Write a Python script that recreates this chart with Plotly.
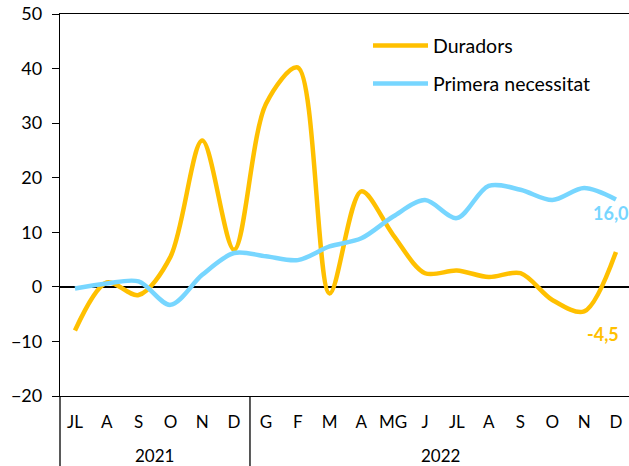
import plotly.graph_objects as go

# Month labels (Catalan abbreviations) and years
months = ["JL", "A", "S", "O", "N", "D",
          "G", "F", "M", "A", "MG", "J", "JL", "A", "S", "O", "N", "D"]
years = ["2021", "2022"]
year_counts = [6, 12]

# Year-on-year change (%)
duradors = [-8.0, 0.8, -1.5, 5.5, 26.8, 6.8,
            33.5, 40.2, -1.2, 17.5, 9.5, 2.5, 3.0, 1.8, 2.5, -2.4, -4.5, 6.4]
primera = [-0.3, 0.6, 1.0, -3.3, 2.2, 6.2,
           5.6, 4.9, 7.4, 8.9, 12.9, 15.9, 12.6, 18.5, 17.8, 15.9, 18.1, 16.0]

ORANGE = "#FFC000"
BLUE = "#77D6FF"
FONT = "Lato"

x = list(range(len(months)))

fig = go.Figure()
fig.add_trace(go.Scatter(x=x, y=duradors, mode="lines", name="Duradors",
                         line=dict(color=ORANGE, width=4.5, shape="spline", smoothing=0.9),
                         showlegend=False))
fig.add_trace(go.Scatter(x=x, y=primera, mode="lines", name="Primera necessitat",
                         line=dict(color=BLUE, width=4.5, shape="spline", smoothing=0.9),
                         showlegend=False))

# Value labels
fig.add_annotation(x=x[-1], y=primera[-1], text=f"{primera[-1]:.1f}".replace(".", ","),
                   showarrow=False, xanchor="left", yanchor="middle", xshift=-25, yshift=-13,
                   font=dict(family=FONT, size=18, color=BLUE, weight="bold"))
fig.add_annotation(x=x[-2], y=duradors[-2], text=f"{duradors[-2]:.1f}".replace(".", ","),
                   showarrow=False, xanchor="left", yanchor="middle", xshift=1, yshift=-23,
                   font=dict(family=FONT, size=18, color=ORANGE, weight="bold"))

# Legend drawn as line keys with text
legend_items = [("Duradors", ORANGE), ("Primera necessitat", BLUE)]
for i, (label, col) in enumerate(legend_items):
    yy = 45.5 + i * 38
    fig.add_shape(type="line", xref="paper", yref="paper",
                  x0=(373 - 60) / 569, x1=(428 - 60) / 569,
                  y0=(396 - yy) / 382, y1=(396 - yy) / 382,
                  line=dict(color=col, width=4.5))
    fig.add_annotation(xref="paper", yref="paper", x=(431 - 60) / 569, y=(396 - yy) / 382,
                       text=label, showarrow=False, xanchor="left", yanchor="middle",
                       font=dict(family=FONT, size=19.5, color="black"))

# Year grouping below the month labels
start = 0
bottom = -70 / 382
for yr, n in zip(years, year_counts):
    mid = start + (n - 1) / 2
    fig.add_annotation(x=mid, y=-59 / 382, xref="x", yref="paper", text=yr,
                       showarrow=False, yanchor="middle",
                       font=dict(family=FONT, size=17, color="black"))
    sep = start + n - 0.5
    fig.add_shape(type="line", xref="x", yref="paper", x0=sep, x1=sep,
                  y0=0, y1=bottom, line=dict(color="black", width=1.3))
    start += n
# Left axis extended through the category rows
fig.add_shape(type="line", xref="paper", yref="paper", x0=0, x1=0,
              y0=0, y1=bottom, line=dict(color="black", width=1.3))

fig.update_layout(
    width=629, height=466,
    margin=dict(l=60, r=0, t=14, b=70),
    paper_bgcolor="white", plot_bgcolor="white",
    font=dict(family=FONT, color="black"),
    xaxis=dict(range=[-0.47, 17.41], tickmode="array", tickvals=x, ticktext=months,
               showgrid=False, zeroline=False, showline=True, mirror=True,
               linecolor="black", linewidth=1.3, ticks="", ticklabelstandoff=10,
               tickfont=dict(family=FONT, size=17, color="black")),
    yaxis=dict(range=[-20, 50], dtick=10, showgrid=False, zeroline=True,
               zerolinecolor="black", zerolinewidth=1.5, showline=True,
               linecolor="black", linewidth=1.3, ticks="outside", ticklen=7,
               tickcolor="black", tickwidth=1.3, ticklabelstandoff=6,
               tickfont=dict(family=FONT, size=18, color="black")),
)

fig.write_html("out.html")
